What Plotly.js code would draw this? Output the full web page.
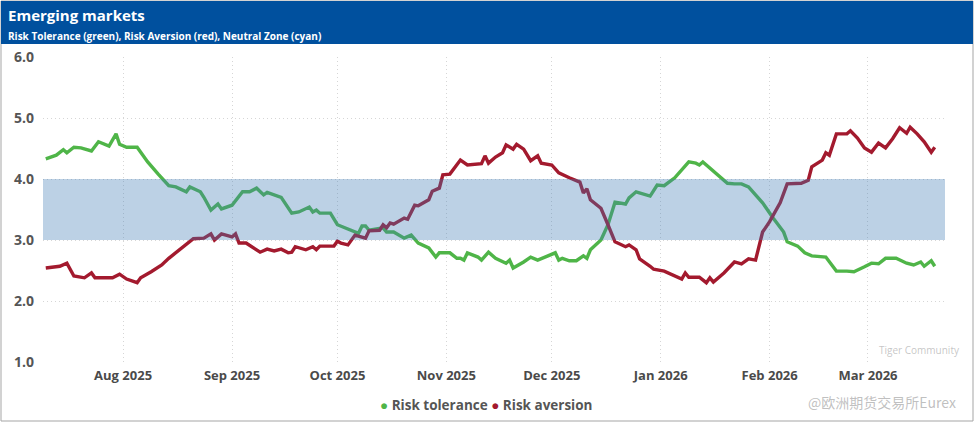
<!DOCTYPE html>
<html><head><meta charset="utf-8">
<script src="https://cdn.plot.ly/plotly-3.0.1.min.js"></script>
<style>html,body{margin:0;padding:0;background:#fff}#chart{width:975px;height:424px}</style>
</head><body><div id="chart"></div>
<script>
// ---- data ----
const chartTitle = 'Emerging markets';
const chartSubtitle = 'Risk Tolerance (green), Risk Aversion (red), Neutral Zone (cyan)';
const seriesNames = ['Risk tolerance', 'Risk aversion'];
const neutralLow = 3.0;
const neutralHigh = 4.0;
const yTicks = [1, 2, 3, 4, 5, 6];

const toleranceDates = [
  '2025-07-10','2025-07-13','2025-07-15','2025-07-16','2025-07-18','2025-07-20','2025-07-23','2025-07-25','2025-07-28','2025-07-30','2025-07-31',
  '2025-08-02','2025-08-05','2025-08-08','2025-08-11','2025-08-12','2025-08-14','2025-08-16','2025-08-19','2025-08-20','2025-08-23','2025-08-24','2025-08-26','2025-08-28','2025-08-29',
  '2025-09-01','2025-09-04','2025-09-06','2025-09-08','2025-09-10','2025-09-11','2025-09-15','2025-09-18','2025-09-20','2025-09-23','2025-09-24','2025-09-25','2025-09-26','2025-09-29',
  '2025-10-01','2025-10-05','2025-10-07','2025-10-08','2025-10-09','2025-10-10','2025-10-14','2025-10-15','2025-10-17','2025-10-20','2025-10-22','2025-10-24','2025-10-27','2025-10-29','2025-10-30',
  '2025-11-02','2025-11-04','2025-11-05','2025-11-06','2025-11-07','2025-11-10','2025-11-11','2025-11-13','2025-11-15','2025-11-18','2025-11-19','2025-11-20','2025-11-23','2025-11-25','2025-11-27',
  '2025-12-02','2025-12-03','2025-12-04','2025-12-06','2025-12-08','2025-12-10','2025-12-11','2025-12-12','2025-12-15','2025-12-17','2025-12-19','2025-12-22','2025-12-23','2025-12-25','2025-12-27','2025-12-29','2025-12-31',
  '2026-01-02','2026-01-05','2026-01-07','2026-01-09','2026-01-11','2026-01-12','2026-01-13','2026-01-17','2026-01-20','2026-01-22','2026-01-24','2026-01-26','2026-01-30',
  '2026-02-02','2026-02-05','2026-02-06','2026-02-08','2026-02-09','2026-02-11','2026-02-13','2026-02-17','2026-02-20','2026-02-23','2026-02-25','2026-02-28',
  '2026-03-02','2026-03-04','2026-03-06','2026-03-09','2026-03-12','2026-03-14','2026-03-16','2026-03-17','2026-03-19','2026-03-20'
];
const toleranceValues = [
  4.33,4.39,4.48,4.43,4.52,4.51,4.46,4.61,4.54,4.74,4.57,
  4.52,4.52,4.28,4.08,4.02,3.89,3.87,3.79,3.87,3.79,3.70,3.49,3.59,3.51,
  3.57,3.79,3.79,3.85,3.74,3.78,3.70,3.44,3.46,3.54,3.46,3.49,3.44,3.44,
  3.25,3.15,3.11,3.23,3.23,3.16,3.20,3.13,3.13,3.03,3.08,2.95,2.87,2.72,2.79,
  2.79,2.70,2.70,2.67,2.79,2.72,2.67,2.80,2.70,2.62,2.67,2.54,2.64,2.72,2.67,
  2.79,2.67,2.70,2.66,2.66,2.74,2.70,2.84,3.00,3.25,3.62,3.59,3.69,3.79,3.76,3.72,3.90,
  3.89,4.02,4.15,4.28,4.26,4.23,4.28,4.07,3.93,3.92,3.92,3.87,3.61,
  3.36,3.13,2.97,2.93,2.90,2.79,2.74,2.72,2.49,2.49,2.48,2.56,
  2.62,2.61,2.70,2.70,2.62,2.59,2.64,2.57,2.66,2.57
];

const aversionDates = [
  '2025-07-10','2025-07-14','2025-07-16','2025-07-18','2025-07-21','2025-07-23','2025-07-24','2025-07-29','2025-07-31',
  '2025-08-02','2025-08-05','2025-08-06','2025-08-09','2025-08-12','2025-08-14','2025-08-18','2025-08-21','2025-08-24','2025-08-26','2025-08-27','2025-08-29',
  '2025-09-01','2025-09-02','2025-09-03','2025-09-05','2025-09-09','2025-09-11','2025-09-13','2025-09-15','2025-09-17','2025-09-18','2025-09-19','2025-09-22','2025-09-24','2025-09-25','2025-09-26','2025-09-30',
  '2025-10-01','2025-10-02','2025-10-04','2025-10-06','2025-10-09','2025-10-10','2025-10-13','2025-10-14','2025-10-15','2025-10-16','2025-10-17','2025-10-20','2025-10-21','2025-10-23','2025-10-24','2025-10-27','2025-10-28','2025-10-30','2025-10-31',
  '2025-11-02','2025-11-05','2025-11-07','2025-11-11','2025-11-12','2025-11-13','2025-11-15','2025-11-17','2025-11-18','2025-11-20','2025-11-21','2025-11-23','2025-11-25','2025-11-27','2025-11-28',
  '2025-12-01','2025-12-03','2025-12-06','2025-12-09','2025-12-10','2025-12-11','2025-12-12','2025-12-15','2025-12-17','2025-12-19','2025-12-22','2025-12-23','2025-12-25','2025-12-26','2025-12-29','2025-12-30',
  '2026-01-02','2026-01-05','2026-01-07','2026-01-08','2026-01-09','2026-01-12','2026-01-14','2026-01-15','2026-01-16','2026-01-19','2026-01-22','2026-01-24','2026-01-26','2026-01-28','2026-01-30',
  '2026-02-01','2026-02-04','2026-02-06','2026-02-08','2026-02-10','2026-02-12','2026-02-13','2026-02-16','2026-02-17','2026-02-18','2026-02-20','2026-02-23','2026-02-24','2026-02-26','2026-02-28',
  '2026-03-02','2026-03-04','2026-03-06','2026-03-08','2026-03-10','2026-03-12','2026-03-13','2026-03-15','2026-03-17','2026-03-19','2026-03-20'
];
const aversionValues = [
  2.54,2.57,2.62,2.41,2.38,2.46,2.38,2.38,2.44,
  2.36,2.30,2.38,2.48,2.59,2.70,2.89,3.02,3.03,3.10,3.00,3.10,
  3.05,3.10,2.95,2.95,2.80,2.85,2.82,2.85,2.79,2.80,2.89,2.84,2.89,2.84,2.90,2.90,
  2.98,2.95,2.92,3.08,3.03,3.15,3.16,3.25,3.20,3.28,3.26,3.36,3.34,3.57,3.56,3.66,3.80,3.85,4.07,
  4.08,4.31,4.23,4.25,4.38,4.26,4.36,4.43,4.56,4.49,4.57,4.49,4.30,4.38,4.26,
  4.23,4.10,4.02,3.95,3.77,3.84,3.66,3.52,3.25,2.97,2.89,2.92,2.84,2.69,2.57,2.52,
  2.49,2.41,2.36,2.46,2.39,2.39,2.30,2.38,2.31,2.46,2.64,2.61,2.69,2.67,3.13,
  3.30,3.61,3.92,3.92,3.93,3.98,4.20,4.31,4.43,4.39,4.74,4.74,4.79,4.67,4.51,
  4.44,4.59,4.51,4.66,4.84,4.75,4.85,4.74,4.61,4.44,4.52
];

// ---- layout helpers (pixel -> paper) ----
const W = 975, H = 424;
const PL = 43, PR = 945, PT = 57, PB = 362;
const px = X => (X - PL) / (PR - PL);
const py = Y => (PB - Y) / (PB - PT);

const green = '#4fb548';
const red = '#a31a2e';
const FONT = '"Open Sans", "Noto Sans", Arial, sans-serif';

const traces = [
  {x: toleranceDates, y: toleranceValues, type: 'scatter', mode: 'lines', name: seriesNames[0],
   line: {color: green, width: 3.4}, hoverinfo: 'skip', showlegend: false},
  {x: aversionDates, y: aversionValues, type: 'scatter', mode: 'lines', name: seriesNames[1],
   line: {color: red, width: 3.4}, hoverinfo: 'skip', showlegend: false}
];

const layout = {
  width: W, height: H,
  margin: {l: PL, r: W - PR, t: PT, b: H - PB, pad: 0},
  paper_bgcolor: '#ffffff', plot_bgcolor: '#ffffff',
  font: {family: FONT, color: '#555'},
  showlegend: false,
  xaxis: {
    type: 'date',
    range: ['2025-07-09 05:00', '2026-03-22 22:00'],
    tick0: '2025-08-01', dtick: 'M1', tickformat: '%b %Y',
    showgrid: true, gridcolor: '#d6d6d6', griddash: '1px,3px', gridwidth: 1,
    zeroline: false, showline: false, ticks: '',
    tickfont: {family: FONT, size: 13, color: '#4a4a4a', weight: 'bold'},
    ticklabelstandoff: 4
  },
  yaxis: {
    range: [1, 6], tickvals: yTicks, tickformat: '.1f',
    showgrid: true, gridcolor: '#d6d6d6', griddash: '1px,3px', gridwidth: 1,
    zeroline: false, showline: false, ticks: '',
    tickfont: {family: FONT, size: 14, color: '#555', weight: 'bold'},
    ticklabelstandoff: 8
  },
  shapes: [
    {type: 'rect', xref: 'paper', yref: 'paper', x0: px(1), x1: px(973), y0: py(421), y1: py(1),
     line: {color: '#a5a5a5', width: 1}, fillcolor: 'rgba(0,0,0,0)', layer: 'below'},
    {type: 'rect', xref: 'paper', yref: 'paper', x0: px(1), x1: px(973), y0: py(44), y1: py(1),
     line: {width: 0}, fillcolor: '#00509e', layer: 'above'},
    {type: 'rect', xref: 'paper', yref: 'y', x0: 0, x1: 1, y0: neutralLow, y1: neutralHigh,
     line: {width: 0}, fillcolor: 'rgba(64,124,181,0.35)', layer: 'above'}
  ],
  annotations: [
    {xref: 'paper', yref: 'paper', x: px(6), y: py(15), xanchor: 'left', yanchor: 'middle',
     text: chartTitle, showarrow: false,
     font: {family: FONT, size: 15, color: '#ffffff', weight: 'bold'}},
    {xref: 'paper', yref: 'paper', x: px(6), y: py(35.5), xanchor: 'left', yanchor: 'middle',
     text: chartSubtitle, showarrow: false,
     font: {family: FONT, size: 10, color: '#ffffff', weight: 'bold'}},
    {xref: 'paper', yref: 'paper', x: px(486), y: py(405), xanchor: 'center', yanchor: 'middle',
     text: '<span style="color:' + green + '">●</span> ' + seriesNames[0] +
           ' <span style="color:' + red + '">●</span> ' + seriesNames[1],
     showarrow: false, font: {family: FONT, size: 13.5, color: '#555', weight: 'bold'}},
    {xref: 'paper', yref: 'paper', x: px(962), y: py(350), xanchor: 'right', yanchor: 'middle',
     text: 'Tiger Community', showarrow: false,
     font: {family: FONT, size: 10, color: 'rgba(150,150,150,0.55)'}},
    {xref: 'paper', yref: 'paper', x: px(958), y: py(402), xanchor: 'right', yanchor: 'middle',
     text: '@欧洲期货交易所Eurex', showarrow: false,
     font: {family: '"Noto Sans CJK SC", sans-serif', size: 14, color: 'rgba(150,150,150,0.6)'}}
  ]
};

Plotly.newPlot('chart', traces, layout, {displayModeBar: false, staticPlot: true});
</script>
</body></html>
